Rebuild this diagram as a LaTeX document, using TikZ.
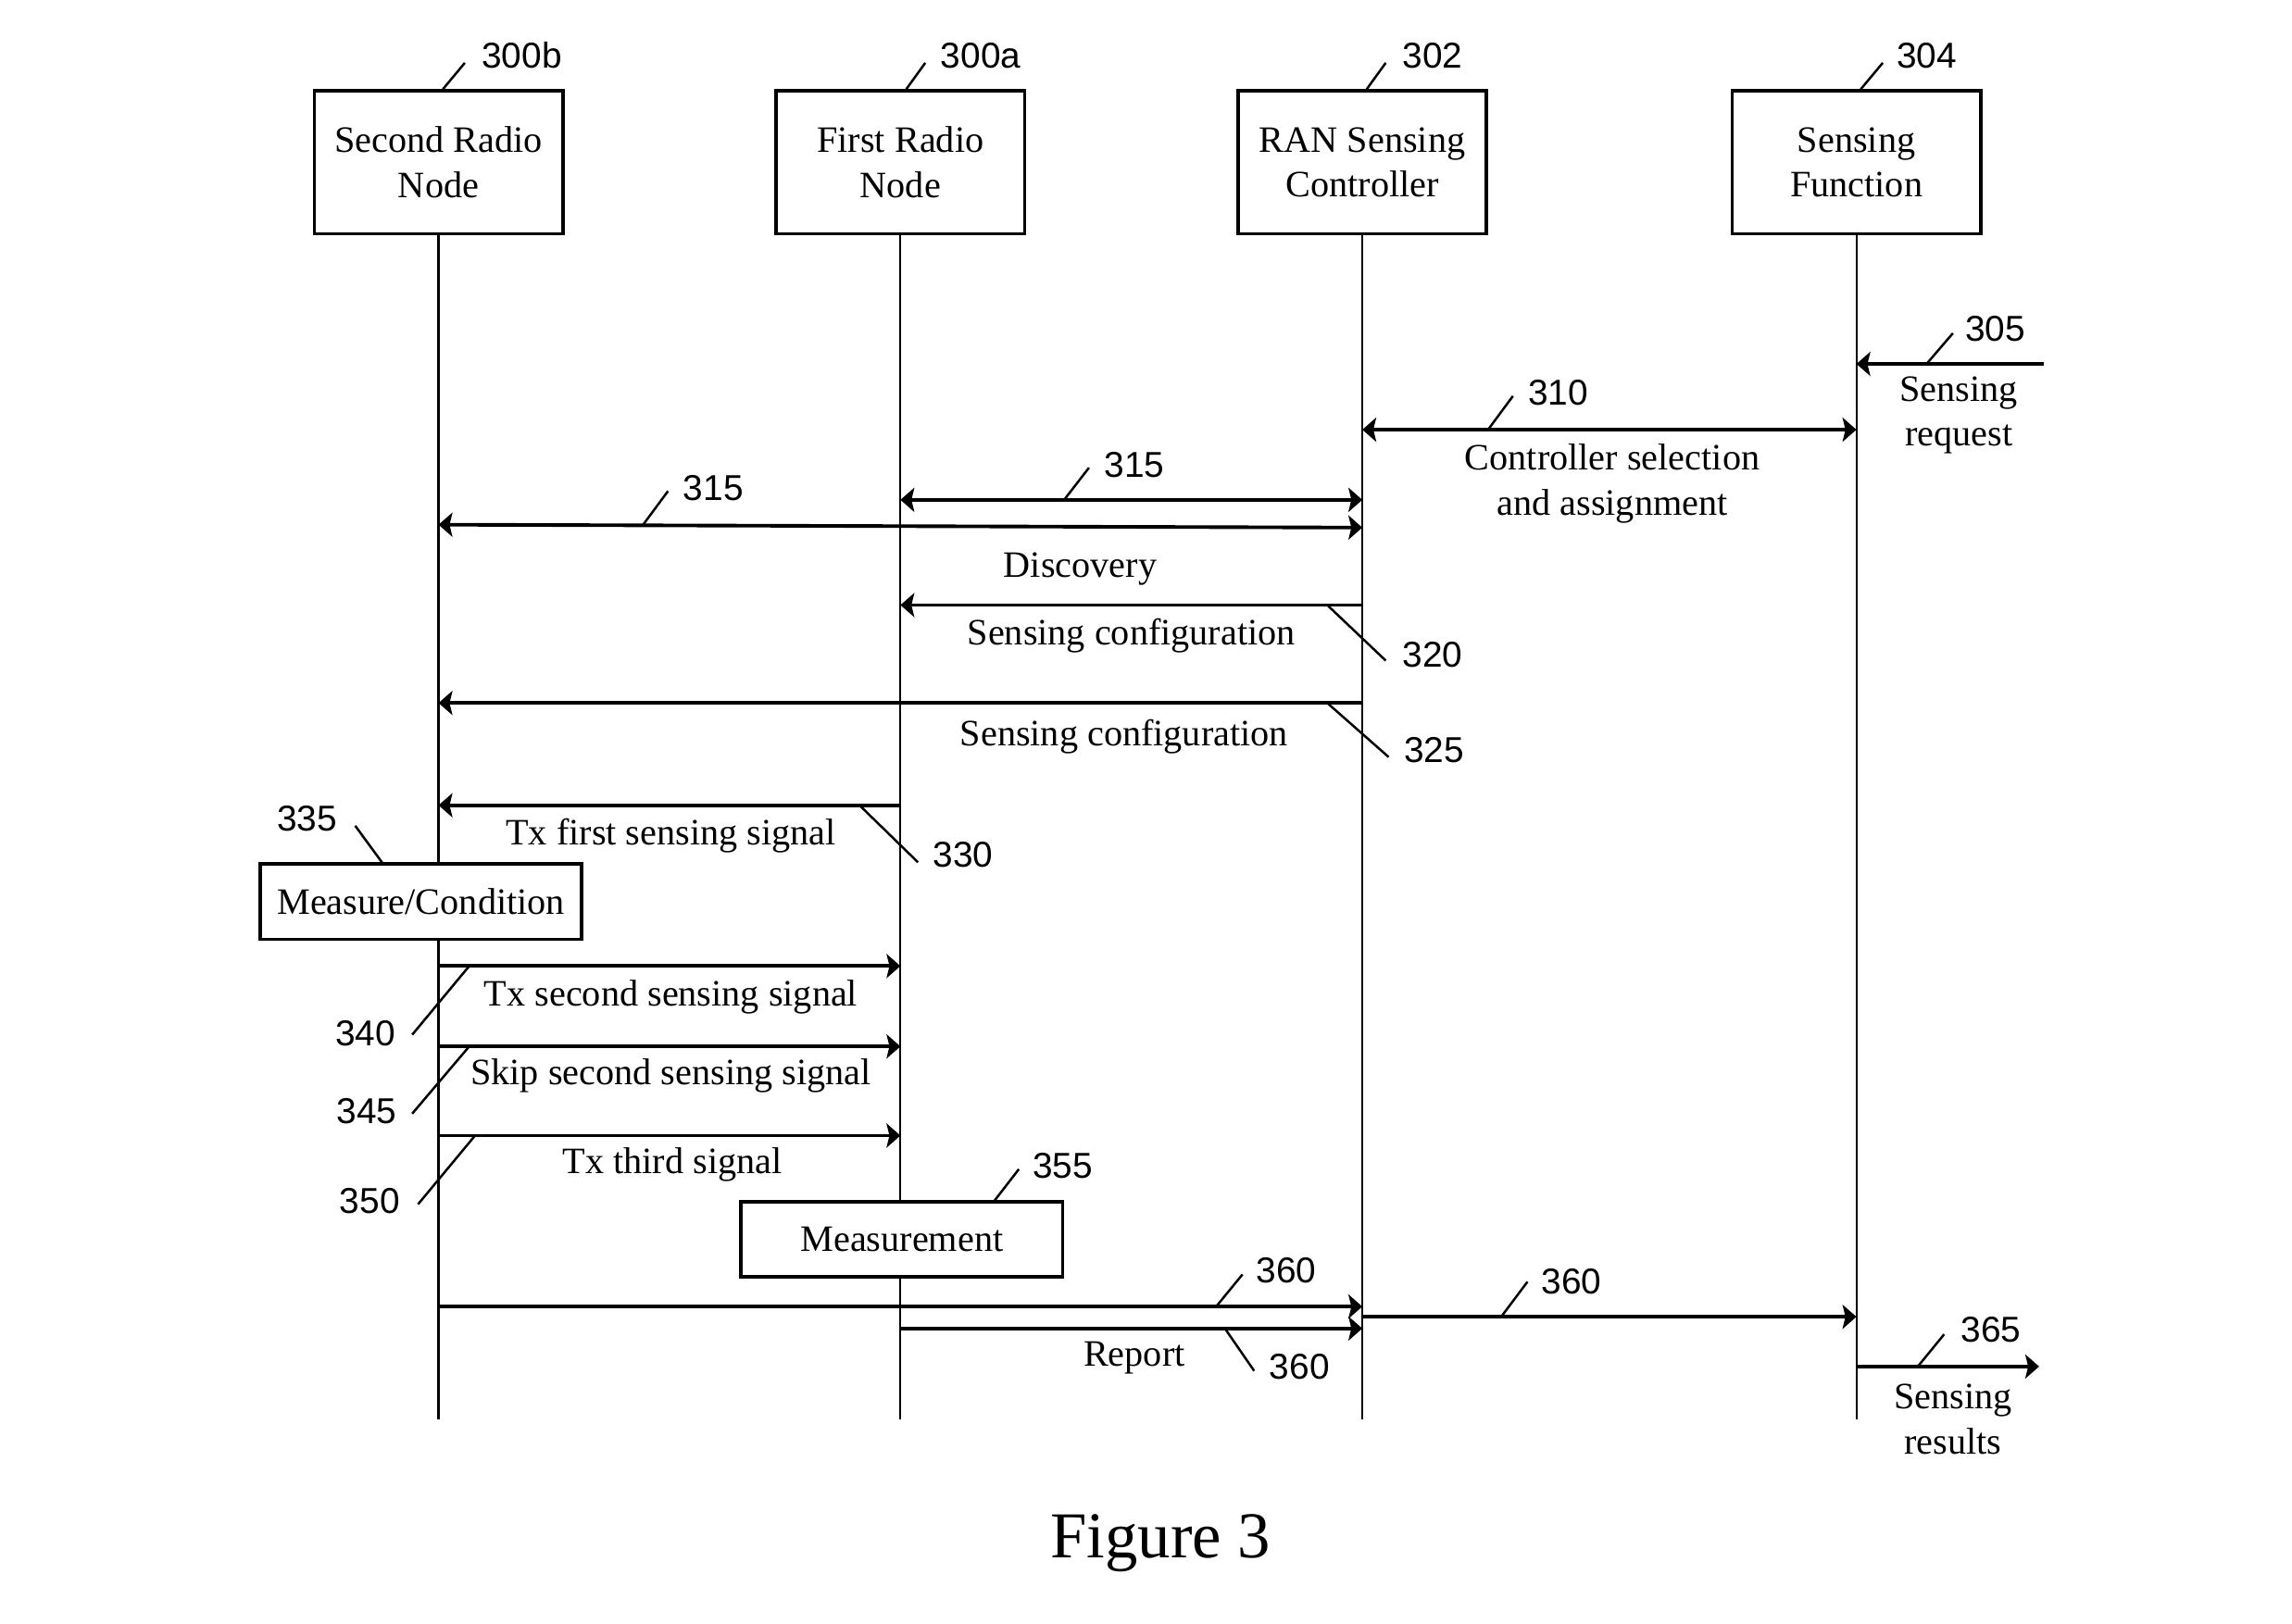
\documentclass[tikz,border=0pt]{standalone}
\usepackage{fontspec}
\setmainfont{Liberation Serif}
\newfontfamily\numfont{Liberation Sans}
\usetikzlibrary{arrows.meta}

\begin{document}
\begin{tikzpicture}[x=0.2mm, y=-0.2mm,
  font=\fontsize{14.5}{17.5}\selectfont,
  actor/.style={rectangle, draw, line width=1.3pt, fill=white, align=center,
                minimum width=34mm, minimum height=19.6mm},
  act/.style={rectangle, draw, line width=1.3pt, fill=white,
              minimum width=44mm, minimum height=10.3mm},
  life/.style={line width=0.8pt},
  tip/.tip={Stealth[length=1.9mm, width=3.3mm, inset=0.4mm]},
  msg/.style={line width=1.4pt, -tip},
  both/.style={line width=1.4pt, tip-tip},
  txt/.style={inner sep=0pt, align=center},
  num/.style={inner sep=0pt, font=\numfont\fontsize{14}{16}\selectfont},
  lead/.style={line width=0.9pt},
]
  \useasboundingbox (0,0) rectangle (1568,1111);

  % participants
  \node[actor] (srn) at (300,111) {Second Radio\\Node};
  \node[actor] (frn) at (616,111) {First Radio\\Node};
  \node[actor] (rsc) at (932,111) {RAN Sensing\\Controller};
  \node[actor] (sf)  at (1270,111) {Sensing\\Function};

  \node[num] (n300b) at (357,38) {300b};
  \node[num] (n300a) at (671,38) {300a};
  \node[num] (n302)  at (980,38) {302};
  \node[num] (n304)  at (1318,38) {304};
  \draw[lead] (303,61) -- (318,43);
  \draw[lead] (620,61) -- (633,43);
  \draw[lead] (935,61) -- (948,43);
  \draw[lead] (1273,61) -- (1288,43);

  % lifelines
  \foreach \p in {srn, frn, rsc, sf}
    \draw[life] (\p.south) -- (\p.south |- 0,971);

  % 305 sensing request
  \coordinate (req) at (1398,249);
  \draw[msg] (req) -- (sf |- req);
  \node[txt] (t305) at (1340,284) {Sensing\\request};
  \node[num] (n305) at (1365,225) {305};
  \draw[lead] (1318,249) -- (1336,228);

  % 310 controller selection
  \draw[both] (rsc |- 0,294) -- (sf |- 0,294);
  \node[txt] (t310) at (1103,331) {Controller selection\\and assignment};
  \node[num] (n310) at (1066,269) {310};
  \draw[lead] (1018,294) -- (1035,271);

  % 315 discovery
  \draw[both] (frn |- 0,342) -- (rsc |- 0,342);
  \draw[both] (srn |- 0,359) -- (rsc |- 0,361);
  \node[txt] (t315) at (739,389) {Discovery};
  \node[num] (n315a) at (776,318) {315};
  \node[num] (n315b) at (488,334) {315};
  \draw[lead] (728,342) -- (745,320);
  \draw[lead] (440,359) -- (457,336);

  % 320, 325 sensing configuration
  \draw[msg] (rsc |- 0,414) -- (frn |- 0,414);
  \node[txt] (t320) at (774,435) {Sensing configuration};
  \node[num] (n320) at (980,448) {320};
  \draw[lead] (908,414) -- (948,452);

  \draw[msg] (rsc |- 0,481) -- (srn |- 0,481);
  \node[txt] (t325) at (769,504) {Sensing configuration};
  \node[num] (n325) at (981,513) {325};
  \draw[lead] (908,481) -- (950,518);

  % 330 first sensing signal, 335 measure
  \draw[msg] (frn |- 0,551) -- (srn |- 0,551);
  \node[txt] (t330) at (459,572) {Tx first sensing signal};
  \node[num] (n330) at (659,585) {330};
  \draw[lead] (588,551) -- (628,590);

  \node[act] (meas1) at (288,617) {Measure/Condition};
  \node[num] (n335) at (210,560) {335};
  \draw[lead] (243,565) -- (262,591);

  % 340, 345, 350
  \draw[msg] (srn |- 0,661) -- (frn |- 0,661);
  \node[txt] (t340) at (459,682) {Tx second sensing signal};
  \node[num] (n340) at (250,707) {340};
  \draw[lead] (321,661) -- (282,708);

  \draw[msg] (srn |- 0,716) -- (frn |- 0,716);
  \node[txt] (t345) at (459,736) {Skip second sensing signal};
  \node[num] (n345) at (251,760) {345};
  \draw[lead] (321,716) -- (282,762);

  \draw[msg] (srn |- 0,777) -- (frn |- 0,777);
  \node[txt] (t350) at (460,797) {Tx third signal};
  \node[num] (n350) at (253,822) {350};
  \draw[lead] (325,777) -- (286,824);

  % 355 measurement
  \node[act] (meas2) at (617,848) {Measurement};
  \node[num] (n355) at (727,798) {355};
  \draw[lead] (680,822) -- (697,800);

  % 360 report
  \draw[msg] (srn |- 0,894) -- (rsc |- 0,894);
  \draw[msg] (frn |- 0,909) -- (rsc |- 0,909);
  \draw[msg] (rsc |- 0,901) -- (sf |- 0,901);
  \node[txt] (t360) at (776,929) {Report};
  \node[num] (n360a) at (880,869) {360};
  \node[num] (n360b) at (889,935) {360};
  \node[num] (n360c) at (1075,877) {360};
  \draw[lead] (832,894) -- (850,872);
  \draw[lead] (838,909) -- (858,938);
  \draw[lead] (1027,901) -- (1045,877);

  % 365 results
  \coordinate (res) at (1395,935);
  \draw[msg] (sf |- res) -- (res);
  \node[txt] (t365) at (1336,971) {Sensing\\results};
  \node[num] (n365) at (1362,910) {365};
  \draw[lead] (1312,935) -- (1330,913);

  \node[font=\fontsize{25.5}{30}\selectfont] (fig) at (794,1056) {Figure 3};
\end{tikzpicture}
\end{document}
